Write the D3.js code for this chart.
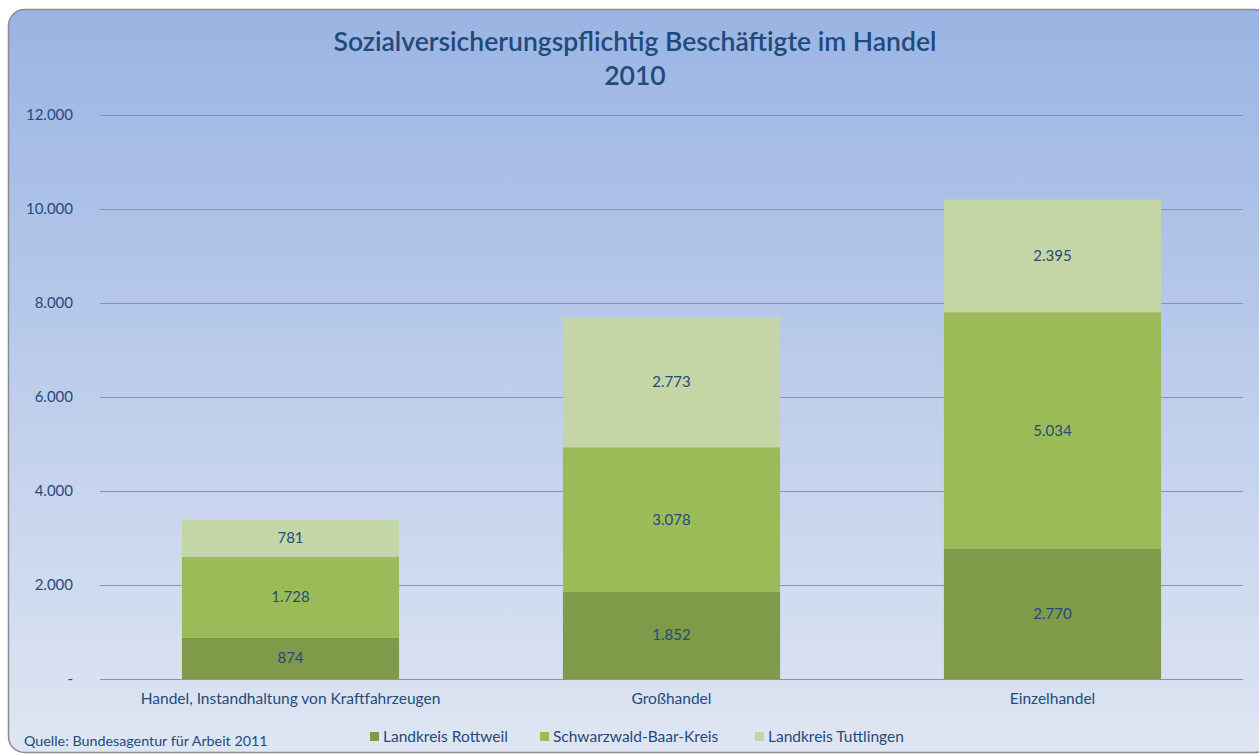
<!DOCTYPE html>
<html>
<head>
<meta charset="utf-8">
<script src="https://d3js.org/d3.v7.min.js"></script>
<style>
  body { margin: 0; background: #fff; }
  svg { display: block; font-family: Lato, "Open Sans", sans-serif; }
</style>
</head>
<body>
<svg id="chart" width="1259" height="755"></svg>
<script>
// data
var categories = ["Handel, Instandhaltung von Kraftfahrzeugen", "Großhandel", "Einzelhandel"];
var seriesNames = ["Landkreis Rottweil", "Schwarzwald-Baar-Kreis", "Landkreis Tuttlingen"];
var rottweil = [874, 1852, 2770];
var schwarzwald = [1728, 3078, 5034];
var tuttlingen = [781, 2773, 2395];
var yTicks = [0, 2000, 4000, 6000, 8000, 10000, 12000];
var colors = ["#7f9a48", "#9bbb59", "#c4d6a6"];

var textColor = "#254a7c";
var svg = d3.select("#chart");

// panel background
var defs = svg.append("defs");
var grad = defs.append("linearGradient").attr("id", "bg").attr("x1", 0).attr("y1", 0).attr("x2", 0).attr("y2", 1);
grad.append("stop").attr("offset", "0%").attr("stop-color", "#9ab4e3");
grad.append("stop").attr("offset", "100%").attr("stop-color", "#dfe6f3");

svg.append("rect")
  .attr("x", 8.5).attr("y", 9.5)
  .attr("width", 1262).attr("height", 743)
  .attr("rx", 16).attr("ry", 16)
  .attr("fill", "url(#bg)")
  .attr("stroke", "#8c8c8c").attr("stroke-width", 1.5);

// title
svg.append("text").attr("x", 635).attr("y", 51)
  .attr("text-anchor", "middle").attr("fill", "#1f4a7c")
  .style("font-size", "26.5px").style("font-weight", "600")
  .text("Sozialversicherungspflichtig Beschäftigte im Handel");
svg.append("text").attr("x", 635).attr("y", 85)
  .attr("text-anchor", "middle").attr("fill", "#1f4a7c")
  .style("font-size", "26.5px").style("font-weight", "600")
  .text("2010");

var plotLeft = 100, plotRight = 1243, plotTop = 115, plotBottom = 679;

var x = d3.scaleBand().domain(categories).range([plotLeft, plotRight]).paddingInner(0.43).paddingOuter(0.215);
var y = d3.scaleLinear().domain([0, 12000]).range([plotBottom, plotTop]);

var fmt = function(v) { return v === 0 ? "-" : d3.format(",")(v).replace(/,/g, "."); };

// gridlines + y labels
var yAxis = d3.axisLeft(y).tickValues(yTicks).tickSize(-(plotRight - plotLeft)).tickFormat(fmt).tickPadding(27);
var gy = svg.append("g").attr("transform", "translate(" + plotLeft + ",0)").call(yAxis);
gy.select(".domain").remove();
gy.selectAll(".tick line").attr("stroke", "#8a94a6").attr("stroke-width", 1);
gy.selectAll(".tick text").attr("fill", textColor).style("font-size", "15px").style("font-family", "Lato, sans-serif");

// stacked bars
var rows = categories.map(function(c, i) {
  return { cat: c, s0: rottweil[i], s1: schwarzwald[i], s2: tuttlingen[i] };
});
var stack = d3.stack().keys(["s0", "s1", "s2"])(rows);

var layers = svg.append("g").selectAll("g").data(stack).join("g")
  .attr("fill", function(d, i) { return colors[i]; });

layers.selectAll("rect").data(function(d) { return d; }).join("rect")
  .attr("x", function(d) { return x(d.data.cat); })
  .attr("width", x.bandwidth())
  .attr("y", function(d) { return y(d[1]); })
  .attr("height", function(d) { return y(d[0]) - y(d[1]); });

layers.selectAll("text").data(function(d) { return d; }).join("text")
  .attr("x", function(d) { return x(d.data.cat) + x.bandwidth() / 2; })
  .attr("y", function(d) { return (y(d[0]) + y(d[1])) / 2 + 5; })
  .attr("text-anchor", "middle")
  .attr("fill", textColor)
  .style("font-size", "15px")
  .text(function(d) { return fmt(d[1] - d[0]); });

// baseline
svg.append("line").attr("x1", plotLeft).attr("x2", plotRight).attr("y1", plotBottom + 0.5).attr("y2", plotBottom + 0.5)
  .attr("stroke", "#8a94a6");

// x labels
var xAxis = d3.axisBottom(x).tickSize(0).tickPadding(14);
var gx = svg.append("g").attr("transform", "translate(0," + plotBottom + ")").call(xAxis);
gx.select(".domain").remove();
gx.selectAll(".tick text").attr("fill", textColor).style("font-size", "15.5px").style("font-family", "Lato, sans-serif");

// source
svg.append("text").attr("x", 24).attr("y", 746).attr("fill", textColor)
  .style("font-size", "14.3px").text("Quelle: Bundesagentur für Arbeit 2011");

// legend
var legendX = [370, 540, 755];
var lg = svg.append("g").selectAll("g").data(seriesNames).join("g")
  .attr("transform", function(d, i) { return "translate(" + legendX[i] + ",732)"; });
lg.append("rect").attr("width", 9).attr("height", 9).attr("fill", function(d, i) { return colors[i]; });
lg.append("text").attr("x", 13).attr("y", 10).attr("fill", textColor).style("font-size", "15.5px").text(function(d) { return d; });
</script>
</body>
</html>
